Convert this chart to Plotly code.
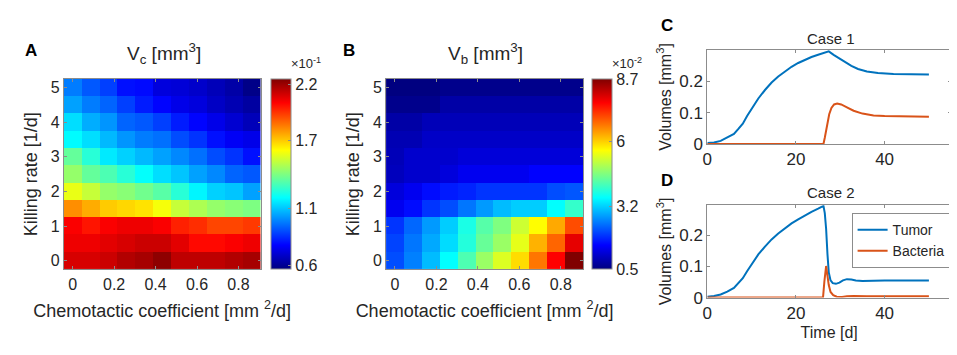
import plotly.graph_objects as go

W, H = 957, 355

# ---------------- data ----------------
chemo_coef = [0, 0.0864, 0.1728, 0.2592, 0.3456, 0.432, 0.5184, 0.6048, 0.6912, 0.7776, 0.864]
killing_rate = [0, 0.5, 1, 1.5, 2, 2.5, 3, 3.5, 4, 4.5, 5]

# V_c in units of 1e-1 mm^3 ; rows = killing rate 0 .. 5
Vc = [
    [2.10, 2.10, 2.12, 2.16, 2.18, 2.22, 2.14, 2.14, 2.14, 2.16, 2.18],
    [2.06, 2.06, 2.08, 2.10, 2.12, 2.12, 2.08, 2.02, 2.02, 2.04, 2.06],
    [2.04, 2.00, 2.04, 2.06, 2.06, 2.04, 1.98, 1.96, 1.92, 1.92, 1.94],
    [1.80, 1.75, 1.70, 1.68, 1.66, 1.60, 1.52, 1.48, 1.44, 1.42, 1.40],
    [1.58, 1.52, 1.44, 1.42, 1.38, 1.34, 1.26, 1.18, 1.12, 1.10, 1.04],
    [1.44, 1.36, 1.32, 1.26, 1.20, 1.14, 1.10, 1.04, 1.00, 0.94, 0.92],
    [1.36, 1.26, 1.16, 1.12, 1.08, 1.04, 1.00, 0.96, 0.90, 0.86, 0.80],
    [1.19, 1.14, 1.08, 1.02, 0.98, 0.96, 0.90, 0.86, 0.80, 0.76, 0.74],
    [1.14, 1.06, 1.02, 0.94, 0.92, 0.88, 0.82, 0.78, 0.74, 0.70, 0.66],
    [1.04, 0.98, 0.94, 0.88, 0.82, 0.78, 0.74, 0.72, 0.68, 0.65, 0.62],
    [0.98, 0.92, 0.88, 0.80, 0.79, 0.72, 0.71, 0.69, 0.66, 0.63, 0.58],
]
# V_b in units of 1e-2 mm^3
Vb = [
    [2.14, 2.55, 3.04, 3.58, 4.19, 4.81, 5.34, 5.91, 6.73, 7.68, 8.70],
    [2.06, 2.47, 2.88, 3.29, 3.86, 4.40, 4.81, 5.42, 6.24, 6.86, 7.88],
    [1.94, 2.35, 2.76, 3.17, 3.78, 4.27, 4.60, 5.22, 5.63, 6.32, 7.06],
    [1.40, 1.61, 1.94, 2.14, 2.47, 2.76, 3.04, 3.17, 3.17, 3.58, 3.99],
    [1.24, 1.40, 1.61, 1.73, 1.81, 1.94, 1.94, 1.94, 1.94, 2.14, 2.22],
    [0.99, 1.12, 1.12, 1.24, 1.40, 1.40, 1.40, 1.40, 1.53, 1.53, 1.53],
    [0.95, 1.12, 1.12, 1.12, 1.22, 1.22, 1.22, 1.22, 1.22, 1.22, 1.22],
    [0.91, 0.91, 1.07, 1.07, 1.07, 1.07, 1.07, 1.07, 1.07, 1.07, 1.07],
    [0.81, 0.81, 0.95, 0.95, 0.95, 0.95, 0.95, 0.95, 0.95, 0.95, 0.95],
    [0.60, 0.60, 0.60, 0.81, 0.81, 0.81, 0.81, 0.81, 0.81, 0.81, 0.81],
    [0.50, 0.50, 0.50, 0.60, 0.60, 0.60, 0.60, 0.60, 0.60, 0.60, 0.60],
]
Vc_limits = [0.566, 2.243]
Vc_ticks = [0.6, 1.1, 1.7, 2.2]
Vc_ticktext = ["0.6", "1.1", "1.7", "2.2"]
Vb_limits = [0.5, 8.7]
Vb_ticks = [0.5, 3.2, 6, 8.7]
Vb_ticktext = ["0.5", "3.2", "6", "8.7"]

x_ticks = [0, 0.2, 0.4, 0.6, 0.8]
x_ticktext = ["0", "0.2", "0.4", "0.6", "0.8"]
y_ticks = [0, 1, 2, 3, 4, 5]

# Case 1
t_tumor1 = [0, 1.5, 3, 4.5, 6, 7, 8, 9, 10, 11.5, 13, 14.5, 16, 17.5, 19, 20.5, 22, 23.5, 25, 26.5, 27.4,
            28.5, 29.6, 31, 32.5, 34, 36, 38.5, 42, 46, 50]
v_tumor1 = [0.003, 0.005, 0.010, 0.020, 0.032, 0.048, 0.065, 0.090, 0.113, 0.145, 0.172, 0.196, 0.215, 0.232,
            0.246, 0.258, 0.268, 0.277, 0.284, 0.291, 0.295, 0.284, 0.274, 0.261, 0.249, 0.239, 0.231, 0.226,
            0.223, 0.222, 0.221]
t_bact1 = [0, 26.2, 26.5, 27, 27.5, 28, 28.6, 29.3, 30.2, 31.5, 33, 35, 37.5, 40, 45, 50]
v_bact1 = [0, 0, 0.02, 0.06, 0.095, 0.115, 0.126, 0.129, 0.126, 0.117, 0.106, 0.097, 0.091, 0.089, 0.087, 0.087]

# Case 2
t_tumor2 = [0, 1.5, 3, 4.5, 6, 7, 8, 9, 10, 11.5, 13, 14.5, 16, 17.5, 19, 20.5, 22, 23.5, 25, 26.2,
            26.5, 26.8, 27.1, 27.4, 27.8, 28.3, 29, 29.8, 30.6, 31.5, 32.5, 33.5, 35, 37, 40, 45, 50]
v_tumor2 = [0.003, 0.005, 0.010, 0.019, 0.031, 0.045, 0.062, 0.085, 0.105, 0.138, 0.163, 0.186, 0.205, 0.222,
            0.237, 0.250, 0.263, 0.274, 0.284, 0.293, 0.27, 0.22, 0.14, 0.08, 0.055, 0.046, 0.044, 0.048,
            0.055, 0.059, 0.058, 0.055, 0.053, 0.054, 0.055, 0.055, 0.055]
t_bact2 = [0, 26.1, 26.4, 26.8, 27.1, 27.4, 27.8, 28.4, 29.2, 30.4, 31.5, 33, 36, 40, 50]
v_bact2 = [0, 0, 0.05, 0.101, 0.07, 0.04, 0.018, 0.008, 0.003, 0.002, 0.004, 0.005, 0.004, 0.004, 0.004]

# ---------------- style ----------------
FONT = "Liberation Sans, Arial, Helvetica, sans-serif"
TXT = "#262626"
AX = "#8c8c8c"
BLUE = "#0072BD"
ORANGE = "#D95319"
JET = [[0, "#000080"], [0.125, "#0000ff"], [0.375, "#00ffff"], [0.625, "#ffff00"],
       [0.875, "#ff0000"], [1, "#800000"]]


def px_x(p):
    return p / W


def px_y(p):
    return 1 - p / H


fig = go.Figure()

cb_common = dict(y=px_y(171), yanchor="middle", len=196 / H, lenmode="fraction", thickness=20,
                 thicknessmode="pixels", xanchor="left", xpad=0, ypad=0, outlinecolor=AX, outlinewidth=1,
                 ticks="inside", ticklen=3, tickcolor=AX, tickfont=dict(family=FONT, size=16, color=TXT))

fig.add_trace(go.Heatmap(
    x=chemo_coef, y=killing_rate, z=Vc, colorscale=JET, zmin=Vc_limits[0], zmax=Vc_limits[1],
    xaxis="x", yaxis="y",
    colorbar=dict(cb_common, x=px_x(259), tickvals=Vc_ticks, ticktext=Vc_ticktext),
))
fig.add_trace(go.Heatmap(
    x=chemo_coef, y=killing_rate, z=Vb, colorscale=JET, zmin=Vb_limits[0], zmax=Vb_limits[1],
    xaxis="x2", yaxis="y2",
    colorbar=dict(cb_common, x=px_x(582), tickvals=Vb_ticks, ticktext=Vb_ticktext),
))

fig.add_trace(go.Scatter(x=t_tumor1, y=v_tumor1, mode="lines", line=dict(color=BLUE, width=2),
                         xaxis="x3", yaxis="y3", showlegend=False, name="Tumor"))
fig.add_trace(go.Scatter(x=t_bact1, y=v_bact1, mode="lines", line=dict(color=ORANGE, width=2),
                         xaxis="x3", yaxis="y3", showlegend=False, name="Bacteria"))
fig.add_trace(go.Scatter(x=t_tumor2, y=v_tumor2, mode="lines", line=dict(color=BLUE, width=2),
                         xaxis="x4", yaxis="y4", name="Tumor"))
fig.add_trace(go.Scatter(x=t_bact2, y=v_bact2, mode="lines", line=dict(color=ORANGE, width=2),
                         xaxis="x4", yaxis="y4", name="Bacteria"))

axis_common = dict(showline=True, mirror="ticks", linecolor=AX, linewidth=1, ticks="inside",
                   ticklen=3, tickcolor=AX, showgrid=False, zeroline=False,
                   tickfont=dict(family=FONT, size=16, color=TXT))

heat_x = dict(axis_common, range=[-0.0432, 0.9072], tickvals=x_ticks, ticktext=x_ticktext,
              title=dict(text="Chemotactic coefficient [mm <sup>2</sup>/d]",
                         font=dict(family=FONT, size=18, color=TXT), standoff=12))
heat_y = dict(axis_common, range=[-0.25, 5.25], tickvals=y_ticks,
              title=dict(text="Killing rate [1/d]", font=dict(family=FONT, size=18, color=TXT), standoff=8))

line_x = dict(axis_common, range=[0, 55], tickvals=[0, 20, 40], tickfont=dict(family=FONT, size=17, color=TXT))
line_y = dict(axis_common, tickvals=[0, 0.1, 0.2], ticktext=["0", "0.1", "0.2"],
              tickfont=dict(family=FONT, size=17, color=TXT),
              title=dict(text="Volumes [mm<sup>3</sup>]", font=dict(family=FONT, size=16, color=TXT), standoff=3))

fig.update_layout(
    width=W, height=H, margin=dict(l=0, r=0, t=0, b=0),
    paper_bgcolor="white", plot_bgcolor="white",
    font=dict(family=FONT, color=TXT),
    xaxis=dict(heat_x, domain=[px_x(51), px_x(249)], anchor="y"),
    yaxis=dict(heat_y, domain=[px_y(269), px_y(73)], anchor="x"),
    xaxis2=dict(heat_x, domain=[px_x(375), px_x(573)], anchor="y2"),
    yaxis2=dict(heat_y, domain=[px_y(269), px_y(73)], anchor="x2"),
    xaxis3=dict(line_x, domain=[px_x(698), px_x(943)], anchor="y3"),
    yaxis3=dict(line_y, domain=[px_y(140), px_y(43)], anchor="x3", range=[0, 0.3]),
    xaxis4=dict(line_x, domain=[px_x(698), px_x(943)], anchor="y4",
                title=dict(text="Time [d]", font=dict(family=FONT, size=16, color=TXT), standoff=4)),
    yaxis4=dict(line_y, domain=[px_y(298), px_y(203)], anchor="x4", range=[0, 0.295]),
    legend=dict(x=px_x(843), y=px_y(211), xanchor="left", yanchor="top",
                bordercolor=AX, borderwidth=1, bgcolor="white",
                font=dict(family=FONT, size=14, color=TXT), tracegroupgap=0,
                itemwidth=30),
    showlegend=True,
)

ann = []


def add_text(x, y, text, size, bold=False, xanchor="center", yanchor="middle"):
    ann.append(dict(x=px_x(x), y=px_y(y), xref="paper", yref="paper", text=("<b>%s</b>" % text) if bold else text,
                    showarrow=False, xanchor=xanchor, yanchor=yanchor,
                    font=dict(family=FONT, size=size, color="black" if bold else TXT)))


add_text(18, 44, "A", 17, bold=True)
add_text(338, 44, "B", 17, bold=True)
add_text(657, 18, "C", 17, bold=True)
add_text(657, 177, "D", 17, bold=True)
add_text(152, 47, "V<sub>c</sub> [mm<sup>3</sup>]", 19)
add_text(475, 47, "V<sub>b</sub> [mm<sup>3</sup>]", 19)
add_text(277, 67, "×10<sup>-1</sup>", 13, xanchor="left", yanchor="bottom")
add_text(600, 67, "×10<sup>-2</sup>", 13, xanchor="left", yanchor="bottom")
add_text(822, 31, "Case 1", 15)
add_text(822, 190, "Case 2", 15)
fig.update_layout(annotations=ann)

fig.write_html("out.html")
